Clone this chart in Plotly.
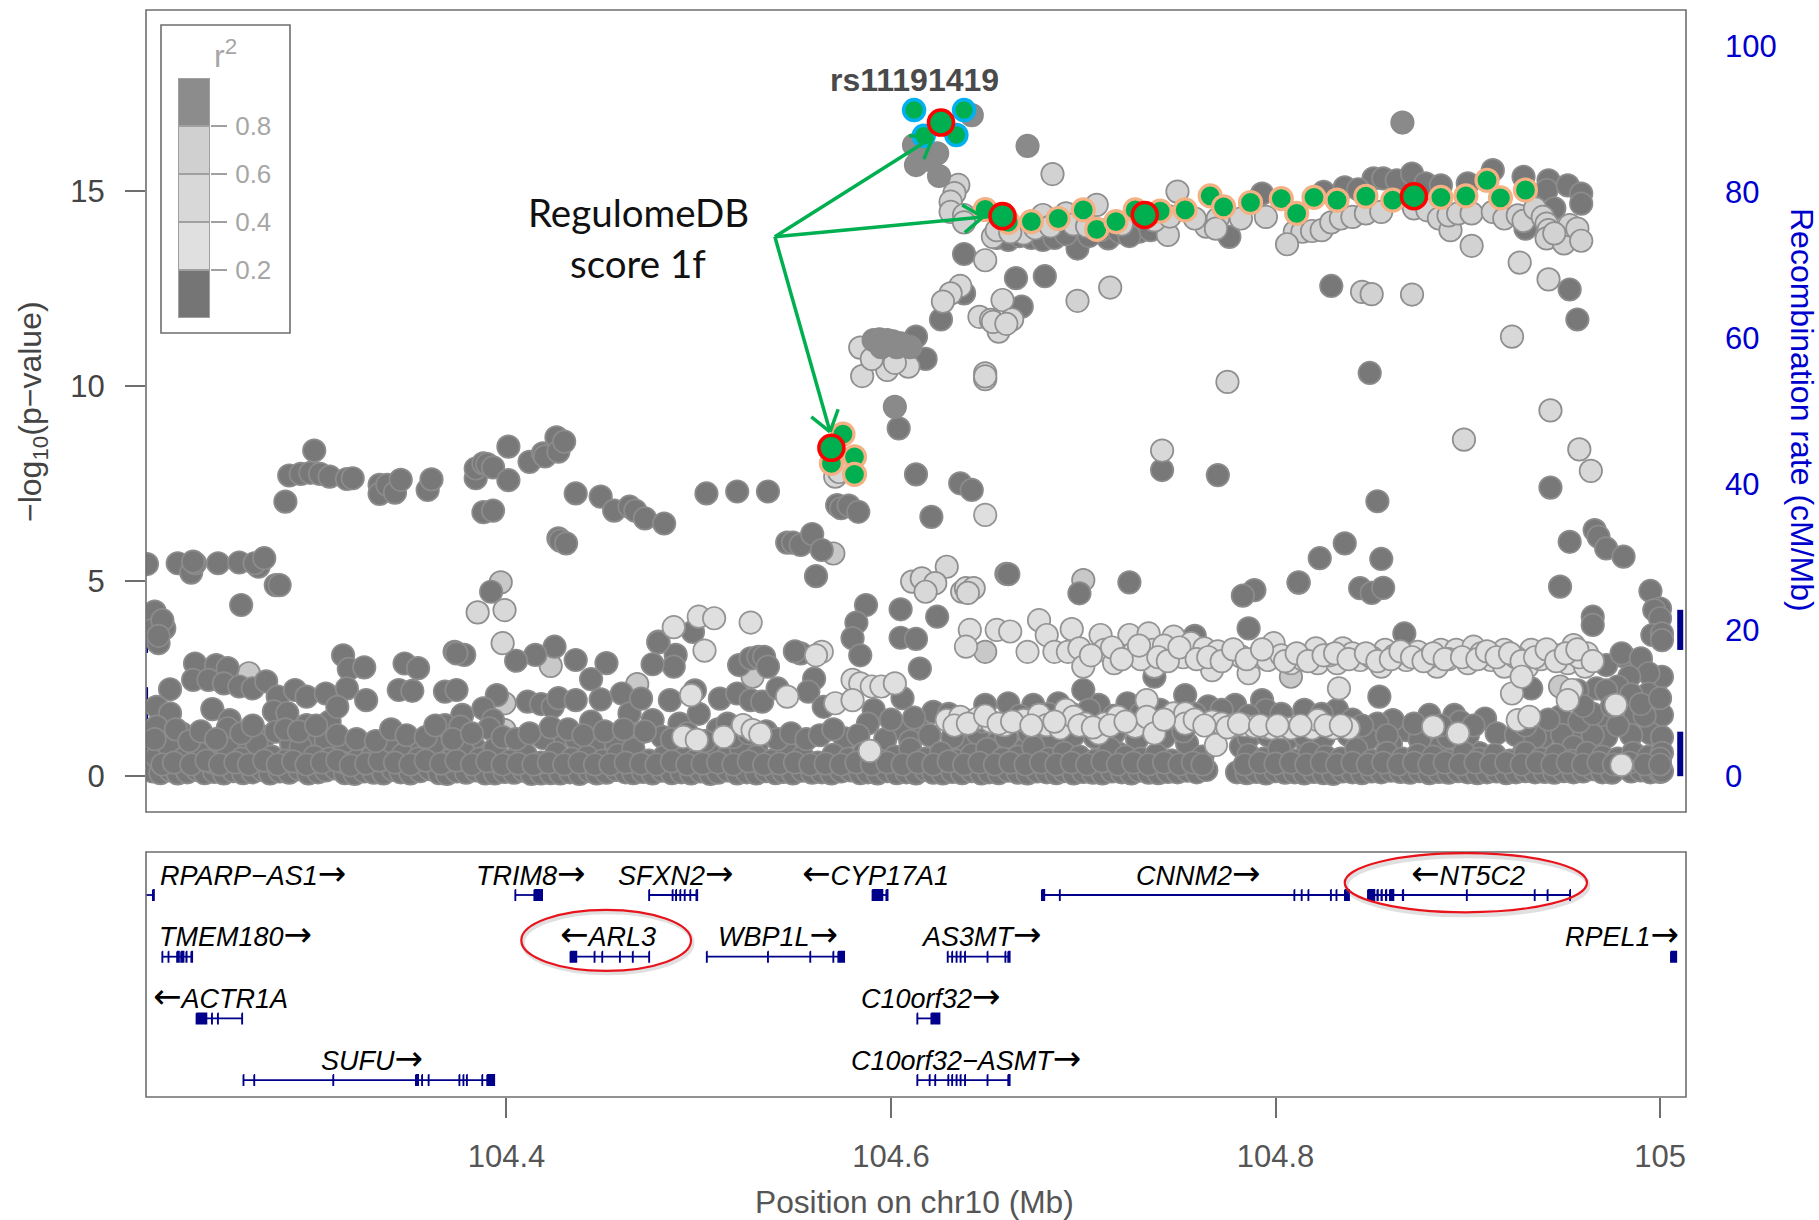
import math
import plotly.graph_objects as go

# --- values: (position in Mb, -log10 p) ---
r2_below_02 = [
(104.300,8.35),(104.285,7.04),(104.287,7.71),(104.293,7.75),(104.298,7.78),(104.303,7.75),(104.308,7.68),(104.317,7.62),(104.320,7.64),
(104.334,7.47),(104.334,7.24),(104.338,7.47),(104.342,7.27),(104.345,7.60),(104.359,7.34),(104.361,7.61),(104.384,7.64),(104.384,7.89),
(104.388,8.02),(104.390,8.0),(104.393,7.92),(104.401,7.59),(104.388,6.77),(104.393,6.81),(104.401,8.45),(104.412,8.06),(104.419,8.28),
(104.420,8.2),(104.426,8.69),(104.427,8.32),(104.430,8.58),(104.436,7.25),(104.449,7.17),(104.456,6.81),(104.464,6.91),(104.467,6.81),
(104.472,6.61),(104.482,6.48),(104.427,6.10),(104.428,6.04),(104.431,5.97),(104.213,5.44),(104.229,5.46),(104.236,5.22),(104.238,5.46),
(104.237,5.5),(104.250,5.46),(104.261,5.48),(104.271,5.37),(104.269,5.46),(104.274,5.59),(104.280,4.90),(104.282,4.90),(104.262,4.39),
(104.217,4.22),(104.222,3.79),(104.219,3.41),(104.216,3.75),(104.221,4.0),(104.219,3.6),(104.392,4.73),(104.425,3.32),(104.373,3.19),
(104.378,3.11),(104.315,3.1),(104.415,3.11),(104.479,3.45),(104.504,7.25),(104.520,7.30),(104.536,7.30),(104.572,6.95),(104.574,6.87),
(104.578,6.94),(104.583,6.78),(104.546,5.99),(104.549,5.99),(104.553,5.93),(104.559,6.21),(104.564,5.80),(104.561,5.13),(104.604,8.92),
(104.613,7.74),(104.636,7.51),(104.642,7.34),(104.621,6.65),(104.660,5.19),(104.741,7.85),(104.618,10.7),(104.613,11.27),(104.626,11.71),
(104.638,12.38),(104.668,12.04),(104.638,13.39),(104.665,12.77),(104.680,12.82),(104.697,13.53),(104.713,13.79),(104.729,13.96),
(104.655,13.8),(104.661,13.75),(104.667,13.85),(104.673,13.8),(104.679,13.75),(104.685,13.8),(104.691,13.9),(104.703,13.85),(104.709,14.0),
(104.719,13.95),(104.724,13.85),(104.735,14.0),(104.851,15.33),(104.856,15.33),(104.863,15.28),(104.871,15.45),(104.878,15.2),(104.886,15.15),
(104.900,15.2),(104.913,15.54),(104.929,15.37),(104.942,15.28),(104.941,15.03),(104.952,15.15),(104.959,14.94),(104.959,14.68),(104.945,14.56),
(104.793,14.94),(104.825,14.98),(104.836,15.1),(104.843,15.05),(104.829,12.57),(104.953,12.48),(104.957,11.71),(104.849,10.34),(104.776,13.83),
(104.770,7.72),(104.943,7.40),(104.930,14.04),(104.853,7.05),(104.953,6.01),(104.966,6.31),(104.968,6.14),(104.972,5.84),(104.981,5.63),
(104.836,5.97),(104.823,5.59),(104.855,5.57),(104.812,4.96),(104.844,4.82),(104.850,4.70),(104.856,4.83),(104.789,4.77),(104.783,4.63),
(104.948,4.86),(104.995,4.75),(105.000,4.30),(104.997,4.26),(105.000,4.05),(104.996,3.62),(105.001,3.66),(105.001,3.49),
(104.965,4.09),(104.965,3.88),(104.867,3.66),(104.786,3.79),(104.758,3.6),(104.981,3.08),(104.990,2.98),(104.972,2.85),(104.587,4.39),
(104.605,4.28),(104.624,4.09),(104.582,3.94),(104.605,3.55),(104.613,3.52),(104.580,3.54),(104.584,3.1),(104.615,2.76),(104.553,3.15),
(104.550,3.2),(104.560,2.5),(104.497,3.7),(104.488,3.11),(104.487,2.81),(104.479,3.43),(104.476,2.87),(104.521,2.85),(104.527,3.02),
(104.531,3.06),(104.534,3.06),(104.536,2.81),(104.661,5.18),(104.698,4.69),(104.724,4.97),(104.812,4.97),(104.737,2.55),(104.933,2.25),
# middle band
(104.318,2.75),(104.326,2.79),(104.347,2.89),(104.354,2.77),(104.374,3.15),(104.405,2.96),(104.436,2.98),(104.452,2.9),(104.444,2.49),
(104.238,2.89),(104.249,2.85),(104.255,2.77),(104.225,2.23),(104.237,2.47),(104.245,2.47),(104.253,2.38),(104.261,2.3),(104.268,2.25),
(104.275,2.43),(104.247,1.72),(104.256,1.44),(104.255,1.23),(104.218,1.78),(104.225,1.61),(104.281,2.04),(104.290,2.21),(104.296,2.04),
(104.306,2.12),(104.317,2.25),(104.327,1.95),(104.279,1.66),(104.286,1.62),(104.296,1.31),(104.308,1.4),(104.312,1.78),(104.344,2.21),
(104.351,2.19),(104.368,2.17),(104.374,2.21),(104.395,2.08),(104.388,1.74),(104.377,1.57),(104.368,1.31),(104.376,1.27),(104.393,1.44),
(104.391,1.23),(104.411,1.91),(104.418,1.85),(104.424,1.78),(104.427,2.0),(104.436,1.95),(104.449,1.97),(104.460,2.12),(104.464,1.61),
(104.470,1.99),(104.444,1.4),(104.427,1.01),(104.419,.98),(104.436,.97),(104.446,.84),(104.457,.84),(104.476,1.44),(104.467,1.01),
(104.481,1.01),(104.485,1.95),(104.498,2.2),(104.511,1.99),(104.520,2.12),(104.527,1.95),(104.533,1.91),(104.541,2.25),(104.557,2.17),
(104.565,1.78),(104.490,1.35),(104.500,1.6),(104.510,1.2),(104.521,.84),(104.530,.76),(104.231,1.1),(104.218,1.27),(104.243,.72),(104.222,.8),
(104.263,.8),(104.274,1.01),(104.280,1.14),(104.288,.84),(104.297,1.01),(104.306,.93),(104.316,.76),(104.344,1.01),(104.337,.84),(104.353,.84),
(104.367,.88),(104.383,.76),(104.392,.6),
(104.980,3.15),(104.990,3.02),(105.001,2.55),(104.994,2.64),(104.984,2.55),(104.967,2.25),(104.978,2.3),(104.994,2.12),(104.948,1.53),
(104.972,1.53),(105.001,1.57),(104.987,1.61),(104.995,1.1),(104.972,1.01),(104.955,1.0),(104.909,1.48),(104.915,1.1),(104.925,1.06),
(104.939,1.01),(104.949,1.06),(104.880,1.57),(104.893,1.57),(104.896,1.4),(104.868,1.18),(104.861,1.44),(104.853,1.35),(104.854,2.04),
(104.832,1.7),(104.815,1.7),(104.793,1.95),(104.795,1.7),(104.779,1.83),(104.765,1.79),(104.753,2.08),(104.723,1.87),(104.708,1.83),
(104.700,2.21),(104.687,1.87),(104.674,1.83),(104.661,1.87),(104.649,1.83),(104.622,1.65),(104.606,2.0),(104.591,1.7),(104.614,1.23),
(104.604,1.23),(104.588,1.35),(104.576,.97),(104.626,.59),(104.640,.76),(104.655,.84),(104.669,.67),(104.718,.59),(104.754,.84),
(104.762,.5),(104.782,.76),(104.817,.76),(104.843,.59),(104.860,.84),(104.886,.76),(104.906,.59),(104.929,.59),(104.955,.76),
# y near 1 across the right half
(104.583,1.05),(104.597,.95),(104.610,.9),(104.620,1.05),(104.632,1.0),(104.645,1.1),(104.660,1.0),(104.672,1.1),(104.684,.95),(104.695,1.05),
(104.706,1.0),(104.716,1.1),(104.728,.95),(104.742,1.0),(104.752,1.15),(104.786,1.0),(104.796,1.05),(104.806,.95),(104.815,1.05),(104.825,1.0),
(104.838,1.05),(104.848,.95),(104.858,1.05),(104.875,.95),(104.890,1.0),(104.900,1.05),(104.935,1.0),(104.965,1.05),(104.985,1.05),(105.001,1.0),
# baseline, lower row
(104.216,.12),(104.220,.08),(104.225,.15),(104.229,.07),(104.234,.10),(104.239,.16),(104.243,.08),(104.248,.11),(104.253,.07),(104.258,.13),
(104.263,.08),(104.268,.10),(104.273,.16),(104.277,.07),(104.282,.12),(104.287,.09),(104.292,.18),(104.297,.07),(104.302,.10),(104.306,.15),
(104.311,.20),(104.316,.08),(104.321,.06),(104.326,.12),(104.331,.09),(104.336,.07),(104.341,.16),(104.345,.10),(104.350,.07),(104.355,.13),
(104.360,.18),(104.365,.08),(104.369,.06),(104.374,.12),(104.379,.09),(104.384,.15),(104.389,.07),(104.394,.07),(104.399,.11),(104.404,.09),
(104.409,.14),(104.413,.06),(104.418,.07),(104.423,.08),(104.428,.07),(104.433,.10),(104.438,.06),(104.443,.13),(104.447,.07),(104.452,.09),
(104.457,.16),(104.462,.10),(104.466,.08),(104.471,.11),(104.476,.07),(104.481,.14),(104.486,.08),(104.491,.10),(104.496,.07),(104.501,.12),
(104.506,.06),(104.510,.09),(104.515,.15),(104.520,.07),(104.525,.10),(104.530,.07),(104.535,.13),(104.540,.08),(104.544,.11),(104.549,.07),
(104.554,.14),(104.559,.09),(104.564,.10),(104.569,.07),(104.574,.12),(104.579,.15),(104.584,.08),(104.588,.10),(104.593,.07),(104.598,.13),
(104.603,.08),(104.608,.10),(104.613,.07),(104.618,.16),(104.622,.09),(104.627,.07),(104.632,.11),(104.637,.08),(104.642,.13),(104.647,.07),
(104.651,.10),(104.656,.08),(104.661,.14),(104.666,.09),(104.671,.07),(104.676,.12),(104.681,.10),(104.686,.08),(104.690,.13),(104.695,.07),
(104.700,.11),(104.705,.09),(104.710,.07),(104.715,.12),(104.720,.10),(104.725,.07),(104.729,.14),(104.734,.09),(104.739,.08),(104.744,.11),
(104.749,.10),(104.754,.14),(104.759,.10),(104.764,.16),(104.780,.10),(104.785,.08),(104.790,.11),(104.795,.07),(104.800,.13),(104.805,.09),
(104.810,.10),(104.815,.07),(104.820,.11),(104.825,.08),(104.830,.06),(104.835,.12),(104.840,.10),(104.845,.08),(104.850,.12),(104.855,.10),
(104.860,.14),(104.865,.11),(104.870,.09),(104.875,.13),(104.880,.08),(104.885,.11),(104.890,.09),(104.895,.13),(104.900,.10),(104.905,.08),
(104.910,.10),(104.915,.12),(104.920,.08),(104.925,.10),(104.930,.13),(104.935,.10),(104.940,.11),(104.945,.09),(104.950,.13),(104.955,.10),
(104.960,.12),(104.965,.18),(104.970,.10),(104.975,.09),(104.985,.12),(104.990,.15),(104.995,.10),(105.000,.11),(105.001,.13),
# baseline, upper row
(104.218,.5),(104.224,.8),(104.232,.45),(104.240,.6),(104.247,.35),(104.255,.7),(104.262,.45),(104.270,.85),(104.278,.5),(104.285,.4),
(104.293,.75),(104.300,.5),(104.308,.45),(104.315,.35),(104.322,.4),(104.330,.5),(104.338,.9),(104.346,.55),(104.354,.45),(104.362,.8),
(104.370,.4),(104.378,.6),(104.386,.45),(104.394,.7),(104.402,.4),(104.410,.55),(104.418,.35),(104.426,.6),(104.434,.45),(104.442,.5),
(104.450,.4),(104.458,.55),(104.466,.7),(104.474,.4),(104.482,.5),(104.490,.6),(104.498,.4),(104.506,.55),(104.514,.45),(104.522,.7),
(104.530,.5),(104.538,.4),(104.546,.6),(104.554,.5),(104.562,.35),(104.570,.55),(104.578,.45),(104.586,.6),(104.594,.4),(104.602,.5),
(104.610,.7),(104.618,.45),(104.626,.6),(104.634,.4),(104.642,.55),(104.650,.7),(104.658,.45),(104.666,.5),(104.674,.75),(104.682,.45),
(104.690,.6),(104.698,.5),(104.706,.4),(104.714,.7),(104.722,.5),(104.730,.45),(104.738,.55),(104.746,.4),(104.786,.55),(104.794,.45),
(104.802,.7),(104.810,.4),(104.818,.6),(104.826,.5),(104.834,.45),(104.842,.7),(104.850,.4),(104.858,.6),(104.866,.45),(104.874,.55),
(104.882,.5),(104.890,.4),(104.898,.6),(104.906,.45),(104.914,.55),(104.922,.4),(104.930,.6),(104.938,.45),(104.946,.55),(104.954,.4),
(104.962,.6),(104.970,.5),(104.978,.45),(104.986,.6),(104.994,.5),(105.001,.6),(105.000,.45),
# dense parts of the low cloud
(104.221,.3),(104.227,.35),(104.236,.3),(104.244,.4),(104.251,.3),(104.259,.35),(104.266,.3),(104.274,.4),(104.281,.3),(104.289,.38),
(104.296,.3),(104.304,.35),(104.312,.4),(104.319,.28),(104.327,.32),(104.334,.4),(104.342,.35),(104.350,.3),(104.358,.4),(104.366,.32),
(104.374,.4),(104.382,.3),(104.390,.38),(104.398,.3),(104.406,.32),(104.414,.3),(104.422,.35),(104.430,.3),(104.438,.35),(104.446,.3),
(104.454,.3),(104.462,.35),(104.470,.32),(104.478,.3),(104.486,.38),(104.494,.3),(104.502,.32),(104.510,.35),(104.518,.3),(104.526,.38),
(104.534,.3),(104.542,.32),(104.550,.35),(104.558,.3),(104.566,.32),(104.574,.3),(104.582,.35),(104.590,.3),(104.598,.35),(104.606,.3),
(104.614,.35),(104.622,.3),(104.630,.38),(104.638,.3),(104.646,.35),(104.654,.3),(104.662,.35),(104.670,.3),(104.678,.35),(104.686,.3),
(104.694,.35),(104.702,.3),(104.710,.38),(104.718,.3),(104.726,.35),(104.734,.3),(104.742,.35),(104.750,.3),(104.757,.35),(104.762,.3),
(104.784,.3),(104.792,.35),(104.800,.32),(104.808,.35),(104.816,.3),(104.824,.35),(104.832,.3),(104.840,.35),(104.848,.3),(104.856,.35),
(104.864,.3),(104.872,.35),(104.880,.3),(104.888,.35),(104.896,.3),(104.904,.35),(104.912,.3),(104.920,.35),(104.928,.3),(104.936,.35),
(104.944,.3),(104.952,.35),(104.960,.3),(104.968,.35),(104.976,.3),(104.984,.35),(104.992,.3),(105.000,.3),
(104.217,.95),(104.228,1.2),(104.235,.9),(104.241,1.15),(104.249,.95),(104.262,1.1),(104.268,1.3),(104.285,1.2),(104.292,1.15),(104.301,1.3),
(104.312,1.05),(104.322,.95),(104.332,.9),(104.340,1.2),(104.348,1.05),(104.358,1.0),(104.363,1.3),(104.372,.95),(104.382,1.1),(104.398,1.0),
(104.405,.95),(104.412,1.1),(104.423,1.25),(104.432,1.2),(104.440,1.05),(104.451,1.15),(104.461,1.2),(104.472,1.15),(104.486,.95),(104.494,1.1),
(104.503,.9),(104.515,1.35),(104.518,1.0),(104.526,1.1),(104.535,1.15),(104.541,.95),(104.548,1.1),(104.556,.95),(104.563,1.05),(104.570,1.2),
(104.600,1.45),(104.612,1.5),(104.630,1.6),(104.638,1.45),(104.648,1.4),(104.667,1.55),(104.682,1.6),(104.694,1.6),(104.703,1.7),(104.716,1.55),
(104.730,1.6),(104.740,1.7),(104.758,1.6),(104.772,1.7),(104.786,1.55),(104.803,1.6),(104.824,1.6),(104.840,1.45),(104.845,1.3),(104.872,1.35),
(104.886,1.3),(104.903,1.3),(104.930,1.3),(104.942,1.45),(104.958,1.4),(104.965,1.6),(104.978,1.3),(104.992,1.55),(104.957,2.2),(104.972,2.2),
(104.985,2.1),(104.960,1.8),(104.975,1.8),(104.990,1.85),(105.000,2.0),
]

r2_low_behind = [(104.397,4.97),(104.570,5.71),(104.700,5.03),(104.423,2.83),(104.468,2.36),(104.266,2.64),(104.528,2.55),(104.399,1.87),
(104.399,1.18),(104.404,.84),(104.649,3.19),(104.808,2.55),(104.662,.8),(104.948,2.3)]

r2_04_06 = [(104.385,4.20),(104.399,4.26),(104.398,3.41),(104.585,10.26),(104.598,10.42),(104.609,10.5),(104.584,10.99),(104.590,10.7),(104.602,10.6),
(104.649,10.33),(104.649,10.18),(104.649,10.25),(104.646,11.78),(104.652,11.7),(104.658,12.21),(104.663,11.71),(104.656,11.4),(104.653,11.65),
(104.660,11.6),(104.636,12.57),(104.631,12.38),(104.627,12.17),(104.649,13.23),(104.629,5.37),(104.611,4.99),(104.616,5.07),(104.623,4.95),
(104.618,4.73),(104.637,4.73),(104.639,4.82),(104.643,4.82),(104.640,4.7),(104.741,8.35),(104.775,10.11),(104.943,9.38),(104.898,8.63),
(104.958,8.38),(104.964,7.83),(104.923,11.27),(104.927,13.17),(104.942,12.74),(104.571,7.68),(104.573,7.8)]

r2_02_04 = [(104.500,4.09),(104.508,4.05),(104.487,3.82),(104.503,3.22),(104.527,3.94),(104.564,3.19),(104.496,2.08),(104.546,2.04),(104.492,1.01),
(104.499,.93),(104.513,1.01),(104.523,1.31),(104.528,1.18),(104.532,1.08),(104.649,6.70),
(104.641,3.75),(104.639,3.32),(104.655,3.75),(104.662,3.71),(104.671,3.19),(104.677,4.0),(104.681,3.62),(104.685,3.19),(104.694,3.77),(104.692,3.19),
(104.698,3.28),(104.700,2.81),(104.709,3.62),(104.711,3.24),(104.716,2.9),(104.724,3.62),(104.726,3.15),(104.734,3.66),(104.737,2.81),(104.736,3.24),
(104.747,3.58),(104.747,3.15),(104.756,3.41),(104.763,3.28),(104.767,2.72),(104.775,3.11),(104.782,3.07),(104.786,2.64),(104.791,3.07),(104.799,3.41),
(104.796,2.98),(104.808,2.9),(104.821,3.28),(104.822,2.9),(104.835,3.28),(104.832,2.9),(104.844,2.98),(104.857,3.24),(104.855,2.81),(104.868,2.98),
(104.874,3.19),(104.886,3.24),(104.884,2.81),(104.894,3.24),(104.903,3.32),(104.900,2.9),(104.912,2.98),(104.919,3.24),(104.919,2.81),(104.933,3.24),
(104.931,2.81),(104.943,3.11),(104.955,3.36),(104.952,2.9),(104.962,3.15),(104.961,2.81),
(104.715,3.3),(104.730,3.0),(104.742,3.35),(104.752,3.05),(104.770,3.2),(104.803,3.1),(104.814,3.0),(104.828,3.1),(104.840,3.15),(104.850,3.05),
(104.862,3.1),(104.880,3.05),(104.890,3.0),(104.907,3.15),(104.925,3.05),(104.938,3.0),(104.948,3.1),(104.958,3.05),
(104.704,3.1),(104.720,3.0),(104.729,3.35),(104.739,3.05),(104.744,2.95),(104.750,3.3),(104.759,3.0),(104.765,3.05),(104.772,2.95),(104.778,3.25),
(104.785,3.0),(104.793,3.25),(104.805,2.95),(104.811,3.15),(104.817,2.95),(104.825,3.1),(104.831,3.15),(104.838,3.0),(104.847,3.15),(104.853,2.95),
(104.860,3.0),(104.865,3.2),(104.871,3.05),(104.877,2.95),(104.882,3.15),(104.888,3.0),(104.897,3.05),(104.905,3.0),(104.910,3.2),(104.915,3.05),
(104.922,3.15),(104.928,2.95),(104.935,3.05),(104.941,3.25),(104.946,2.95),(104.951,3.15),(104.957,3.25),(104.965,2.95),
(104.923,2.12),(104.928,2.55),(104.954,2.21),(104.952,1.95),(104.833,2.25),(104.580,2.47),(104.584,2.38),(104.590,2.3),(104.595,2.3),(104.602,2.38),
(104.571,1.87),(104.580,1.95),(104.629,1.44),(104.636,1.52),(104.645,1.48),(104.652,1.4),(104.659,1.31),(104.669,1.44),(104.677,1.57),(104.681,1.31),
(104.688,1.23),(104.691,1.7),(104.695,1.52),(104.701,1.35),(104.708,1.1),(104.711,1.35),(104.718,1.52),(104.727,1.27),(104.733,1.95),(104.733,1.52),
(104.737,1.1),(104.747,1.61),(104.753,1.61),(104.753,1.35),(104.767,1.4),(104.772,1.35),(104.778,1.31),(104.784,1.3),(104.789,1.27),(104.795,1.25),
(104.798,1.23),(104.803,1.25),(104.808,1.23),(104.819,1.23),(104.822,1.44),(104.830,1.23),(104.838,1.23),(104.882,1.27),(104.895,1.1),(104.926,1.44),
(104.932,1.52),(104.977,1.83),(104.980,.29),(104.589,.65),(104.769,.8),(104.561,3.1),
(104.633,1.3),(104.640,1.35),(104.649,1.55),(104.656,1.35),(104.663,1.4),(104.673,1.3),(104.685,1.4),(104.698,1.3),(104.705,1.25),(104.714,1.3),
(104.722,1.4),(104.742,1.45),(104.758,1.45),(104.763,1.3),(104.775,1.25),(104.781,1.35),(104.792,1.3),(104.801,1.3),(104.813,1.3),(104.826,1.3),(104.834,1.3)]

r2_06_08 = [(104.684,15.44),(104.635,15.16),(104.633,14.95),(104.631,14.73),(104.631,14.47),(104.638,14.39),(104.638,14.2),(104.653,13.83),(104.669,13.92),
(104.679,14.39),(104.691,14.43),(104.707,14.65),(104.744,13.88),(104.749,14.99),(104.764,14.09),(104.655,14.0),(104.662,13.95),(104.675,14.05),
(104.683,14.1),(104.695,14.15),(104.702,14.1),(104.720,14.15),(104.737,14.25),(104.745,14.35),(104.758,14.3),(104.770,14.3),
(104.769,14.04),(104.782,14.3),(104.795,14.34),(104.810,13.96),(104.814,13.96),(104.819,13.98),(104.824,14.0),(104.829,14.2),(104.834,14.3),
(104.840,14.34),(104.847,14.43),(104.855,14.47),(104.872,14.56),(104.879,14.51),(104.885,14.3),(104.891,14.0),(104.890,14.38),(104.895,14.43),
(104.902,14.43),(104.913,14.47),(104.919,14.3),(104.926,14.38),(104.929,14.24),(104.935,14.56),(104.939,14.34),(104.941,14.17),(104.942,14.0),
(104.941,13.79),(104.950,13.66),(104.953,14.13),(104.957,14.04),(104.959,13.73),(104.945,13.92),
(104.845,12.42),(104.850,12.36),(104.871,12.35),(104.902,13.6),(104.806,13.64),(104.714,12.53),(104.697,12.19)]

r2_above_08 = [(104.642,16.95),(104.612,16.18),(104.613,15.67),(104.625,15.39),(104.624,15.97),(104.620,15.8),(104.616,16.0),(104.671,16.16),(104.866,16.76),
(104.591,11.18),(104.594,11.2),(104.598,11.18),(104.601,11.15),(104.605,11.1),(104.610,11.0),(104.603,11.0),(104.595,11.0),(104.602,9.47)]

score_1f_flank = [(104.575,8.77),(104.581,8.19),(104.569,8.02),(104.581,7.74),(104.649,14.53),(104.661,14.2),(104.673,14.22),(104.687,14.3),(104.700,14.52),
(104.707,14.02),(104.717,14.22),(104.727,14.52),(104.740,14.49),(104.753,14.52),(104.766,14.88),(104.773,14.6),(104.787,14.71),(104.803,14.81),
(104.811,14.43),(104.820,14.84),(104.832,14.77),(104.847,14.87),(104.861,14.77),(104.886,14.84),(104.899,14.88),(104.910,15.28),(104.917,14.83),(104.930,15.03)]
score_1f_top = [(104.612,17.08),(104.638,17.08),(104.617,16.42),(104.634,16.44)]
score_1f_lead = [(104.569,8.42),(104.658,14.36),(104.732,14.39),(104.872,14.87),(104.626,16.76)]

recomb_left_x = [104.2128,104.2128,None,104.2128,104.2128,None,104.2128,104.2128,None,104.2128,104.2128]
recomb_left_y = [30.3,27.6,None,23.2,16.9,None,12.2,7.4,None,6.6,3.2]
recomb_right_x = [105.0105,105.0105,None,105.0105,105.0105]
recomb_right_y = [22.8,17.3,None,6.1,0]

arrow_origin = (104.5396, 13.83)
arrow_tips = [(104.6218,16.39),(104.6478,14.34),(104.5683,8.83)]

gene_names = ["RPARP\u2212AS1>","TRIM8>","SFXN2>","<CYP17A1","CNNM2>","<NT5C2","TMEM180>","<ARL3","WBP1L>","AS3MT>",
              "RPEL1>","<ACTR1A","C10orf32>","SUFU>","C10orf32\u2212ASMT>"]
gene_rows = [1,1,1,1,1,1,2,2,2,2,2,3,3,4,4]
gene_label_x = [104.268,104.413,104.488,104.592,104.760,104.900,104.259,104.453,104.541,104.647,104.980,104.251,104.621,104.330,104.639]
gene_start = [104.2122,104.4045,104.4741,104.5903,104.6784,104.8480,104.2209,104.4332,104.5041,104.6294,105.0056,104.2387,104.6136,104.2631,104.6136]
gene_end = [104.2167,104.4186,104.4993,104.5983,104.8383,104.9533,104.2366,104.4743,104.5757,104.6618,105.0085,104.2626,104.6253,104.3937,104.6618]
gene_exons = [
 [(104.2160,104.2167)],
 [(104.4045,104.4047),(104.4144,104.4186)],
 [(104.4741,104.4743),(104.4863,104.4865),(104.4881,104.4883),(104.4903,104.4905),(104.4926,104.4928),(104.4955,104.4957),(104.4987,104.4993)],
 [(104.5903,104.5956),(104.5975,104.5983)],
 [(104.6784,104.6798),(104.6877,104.6879),(104.8097,104.8099),(104.8135,104.8137),(104.8170,104.8172),(104.8287,104.8289),(104.8316,104.8318),(104.8360,104.8383)],
 [(104.8480,104.8515),(104.8529,104.8533),(104.8550,104.8554),(104.8573,104.8577),(104.8594,104.8614),(104.8661,104.8665),(104.8994,104.8996),(104.9347,104.9349),(104.9414,104.9416),(104.9531,104.9533)],
 [(104.2209,104.2211),(104.2241,104.2243),(104.2286,104.2297),(104.2307,104.2321),(104.2334,104.2337),(104.2360,104.2366)],
 [(104.4332,104.4364),(104.4457,104.4459),(104.4497,104.4499),(104.4589,104.4591),(104.4656,104.4658),(104.4741,104.4743)],
 [(104.5041,104.5043),(104.5359,104.5361),(104.5579,104.5581),(104.5699,104.5701),(104.5725,104.5757)],
 [(104.6294,104.6296),(104.6317,104.6319),(104.6340,104.6342),(104.6361,104.6363),(104.6384,104.6386),(104.6501,104.6503),(104.6594,104.6596),(104.6609,104.6618)],
 [(105.0056,105.0085)],
 [(104.2387,104.2440),(104.2467,104.2469),(104.2498,104.2500),(104.2624,104.2626)],
 [(104.6136,104.6138),(104.6209,104.6253)],
 [(104.2631,104.2633),(104.2687,104.2689),(104.3098,104.3100),(104.3528,104.3541),(104.3560,104.3562),(104.3594,104.3596),(104.3754,104.3756),(104.3775,104.3777),(104.3793,104.3795),(104.3873,104.3875),(104.3899,104.3937)],
 [(104.6136,104.6138),(104.6200,104.6202),(104.6229,104.6231),(104.6297,104.6299),(104.6317,104.6319),(104.6340,104.6342),(104.6361,104.6363),(104.6384,104.6386),(104.6501,104.6503),(104.6609,104.6618)],
]

legend_base = [0,0.2,0.4,0.6,0.8]
legend_height = [0.2,0.2,0.2,0.2,0.2]
legend_colors = ["#757575","#e0e0e0","#d8d8d8","#d0d0d0","#8c8c8c"]
legend_ticks = [0.2,0.4,0.6,0.8]

x_ticks = [104.4,104.6,104.8,105]
x_tick_text = ["104.4","104.6","104.8","105"]
p_ticks = [0,5,10,15]
rec_ticks = [0,20,40,60,80,100]

# --- page geometry (pixels of the 1819x1220 page) ---
W, H = 1819, 1220
def py(v):
    return 1 - v / H
SANS = "Liberation Sans"
BLUE = "#0000CD"
AX = "#6e6e6e"
NAVY = "#00008B"
GREEN = "#00B050"
PX_PER_MB, PX_PER_P = 1922.7, 39.0

def unzip(pts):
    return [p[0] for p in pts], [p[1] for p in pts]

fig = go.Figure()

fig.add_trace(go.Scatter(x=recomb_left_x, y=recomb_left_y, mode="lines", yaxis="y", xaxis="x", line=dict(color=NAVY, width=3)))
fig.add_trace(go.Scatter(x=recomb_right_x, y=recomb_right_y, mode="lines", yaxis="y", xaxis="x", line=dict(color=NAVY, width=6)))

def dots(pts, fill, edge, size=22.5, lw=1.7):
    xs, ys = unzip(pts)
    fig.add_trace(go.Scatter(x=xs, y=ys, mode="markers", xaxis="x", yaxis="y2",
                             marker=dict(size=size, color=fill, line=dict(color=edge, width=lw))))

dots(r2_low_behind, "#c8c8c8", "#8e8e8e")
dots(r2_below_02, "#787878", "#8c8c8c")
dots(r2_02_04, "#dfdfdf", "#959595")
dots(r2_04_06, "#d8d8d8", "#8f8f8f")
dots(r2_06_08, "#d2d2d2", "#8f8f8f")
dots(r2_above_08, "#8a8a8a", "#8a8a8a")

# green arrows, with open heads worked out in pixels so that they keep their shape
ax_, ay_ = [], []
for tx, ty in arrow_tips:
    ax_ += [arrow_origin[0], tx, None]
    ay_ += [arrow_origin[1], ty, None]
    ang = math.atan2((ty - arrow_origin[1]) * PX_PER_P, (tx - arrow_origin[0]) * PX_PER_MB)
    for d in (0.62, -0.62):
        ax_ += [tx, tx - 24 * math.cos(ang + d) / PX_PER_MB, None]
        ay_ += [ty, ty - 24 * math.sin(ang + d) / PX_PER_P, None]

dots(score_1f_top, GREEN, "#00B0F0", size=21, lw=3.5)
dots(score_1f_flank, GREEN, "#F4B183", size=22, lw=3.2)
dots(score_1f_lead, GREEN, "#FF0000", size=25, lw=3.6)
fig.add_trace(go.Scatter(x=ax_, y=ay_, mode="lines", xaxis="x", yaxis="y2", line=dict(color=GREEN, width=3.5)))

# genes
line_x, line_y, ex_x, ex_y = [], [], [], []
for s, e, r, ex in zip(gene_start, gene_end, gene_rows, gene_exons):
    line_x += [s, e, None]
    line_y += [r, r, None]
    for a, b in ex:
        ex_x += [a, b, b, a, a, None]
        ex_y += [r-0.085, r-0.085, r+0.085, r+0.085, r-0.085, None]
fig.add_trace(go.Scatter(x=line_x, y=line_y, mode="lines", xaxis="x2", yaxis="y3", line=dict(color=NAVY, width=1.8)))
fig.add_trace(go.Scatter(x=ex_x, y=ex_y, mode="lines", fill="toself", fillcolor=NAVY, xaxis="x2", yaxis="y3",
                         line=dict(color=NAVY, width=1.5)))

# r2 colour key, a bar on its own small axes
fig.add_trace(go.Bar(x=[0]*5, y=legend_height, base=legend_base, width=1, xaxis="x3", yaxis="y4",
                     marker=dict(color=legend_colors, line=dict(color="#a0a0a0", width=2))))

ARROW_R = '<span style="font-family:DejaVu Sans;font-size:34px;">\u2192</span>'
ARROW_L = '<span style="font-family:DejaVu Sans;font-size:34px;">\u2190</span>'
annotations = []
for name, r, x in zip(gene_names, gene_rows, gene_label_x):
    label = name
    if name.endswith(">"):
        label = name[:-1] + ARROW_R
    if name.startswith("<"):
        label = ARROW_L + name[1:]
    annotations.append(dict(text="<i>" + label + "</i>", x=x, y=r-0.36, xref="x2", yref="y3", showarrow=False, xanchor="center", yanchor="middle",
                            font=dict(family=SANS, size=27, color="#000000")))

def page_text(text, x, y, size, color, family=SANS, angle=0):
    return dict(text=text, x=x/W, y=py(y), xref="paper", yref="paper", showarrow=False, xanchor="center", yanchor="middle",
                textangle=angle, font=dict(family=family, size=size, color=color))

annotations += [
    page_text("RegulomeDB", 638, 212, 38.5, "#111111", "Lato"),
    page_text("score 1f", 638, 263, 38.5, "#111111", "Lato"),
    page_text("<b>rs11191419</b>", 914, 80, 32, "#4a4a4a"),
    page_text("\u2212log<sub>10</sub>(p\u2212value)", 32, 412, 32, "#444444", angle=-90),
    page_text("Recombination rate (cM/Mb)", 1802, 410, 32, BLUE, angle=90),
    page_text("Position on chr10 (Mb)", 914, 1202, 31.7, "#555555"),
    page_text("r<sup>2</sup>", 225, 54, 32, "#a6a6a6"),
]

def frame(xr, yr, color=AX, width=1.6):
    return dict(type="rect", xref=xr, yref=yr, x0=0, x1=1, y0=0, y1=1, line=dict(color=color, width=width), layer="above")

def ell(x0, x1, y0, y1, color, width, opacity=1):
    return dict(type="circle", xref="x2", yref="y3", x0=x0, x1=x1, y0=y0, y1=y1, line=dict(color=color, width=width), opacity=opacity, layer="above")

shapes = [
    frame("x domain", "y domain"),
    frame("x2 domain", "y3 domain"),
    dict(type="rect", xref="paper", yref="paper", x0=161/W, x1=290/W, y0=py(333), y1=py(25), line=dict(color="#6e6e6e", width=1.6), layer="above"),
    ell(104.4085, 104.4968, 1.28, 2.27, "#888888", 4, 0.25),
    ell(104.8368, 104.9628, 0.37, 1.33, "#888888", 4, 0.25),
    ell(104.4077, 104.4960, 1.24, 2.23, "#E8141C", 2.2),
    ell(104.8360, 104.9620, 0.32, 1.28, "#E8141C", 2.2),
]

x_range = [104.2125, 105.0135]
fig.update_layout(
    width=W, height=H, autosize=False, margin=dict(l=0, r=0, t=0, b=0),
    paper_bgcolor="white", plot_bgcolor="white", showlegend=False, barmode="overlay", bargap=0, hovermode=False,
    annotations=annotations, shapes=shapes,
    xaxis=dict(domain=[146/W, 1686/W], range=x_range, showticklabels=False, ticks="", showgrid=False, zeroline=False, anchor="y"),
    yaxis=dict(domain=[py(812), py(10)], range=[-4.905, 104.99], side="right", anchor="x", showgrid=False, zeroline=False, tickmode="array",
               tickvals=rec_ticks, ticks="", ticklabelstandoff=38, tickfont=dict(family=SANS, size=31, color=BLUE)),
    yaxis2=dict(domain=[py(812), py(10)], range=[-0.918, 19.646], side="left", anchor="x", overlaying="y", showgrid=False, zeroline=False,
                tickmode="array", tickvals=p_ticks, ticks="outside", ticklen=20, tickwidth=1.6, tickcolor=AX, ticklabelstandoff=14,
                tickfont=dict(family=SANS, size=31, color="#444444")),
    xaxis2=dict(domain=[146/W, 1686/W], range=x_range, anchor="y3", showgrid=False, zeroline=False, tickmode="array", tickvals=x_ticks,
                ticktext=x_tick_text, ticks="outside", ticklen=20, tickwidth=1.6, tickcolor=AX, ticklabelstandoff=12,
                tickfont=dict(family=SANS, size=31, color="#555555")),
    yaxis3=dict(domain=[py(1097), py(852)], range=[4.274, 0.303], anchor="x2", visible=False),
    xaxis3=dict(domain=[178/W, 210/W], range=[-0.5, 0.5], anchor="y4", visible=False),
    yaxis4=dict(domain=[py(318), py(78)], range=[0, 1], anchor="x3", side="right", showgrid=False, zeroline=False, tickmode="array",
                tickvals=legend_ticks, tickformat=".1f", ticks="outside", ticklen=16, tickwidth=1.6, tickcolor="#a0a0a0", ticklabelstandoff=3,
                tickfont=dict(family=SANS, size=26, color="#a6a6a6")),
)

fig.write_html("out.html", config={"displayModeBar": False}, post_script="document.body.style.margin='0px';")
